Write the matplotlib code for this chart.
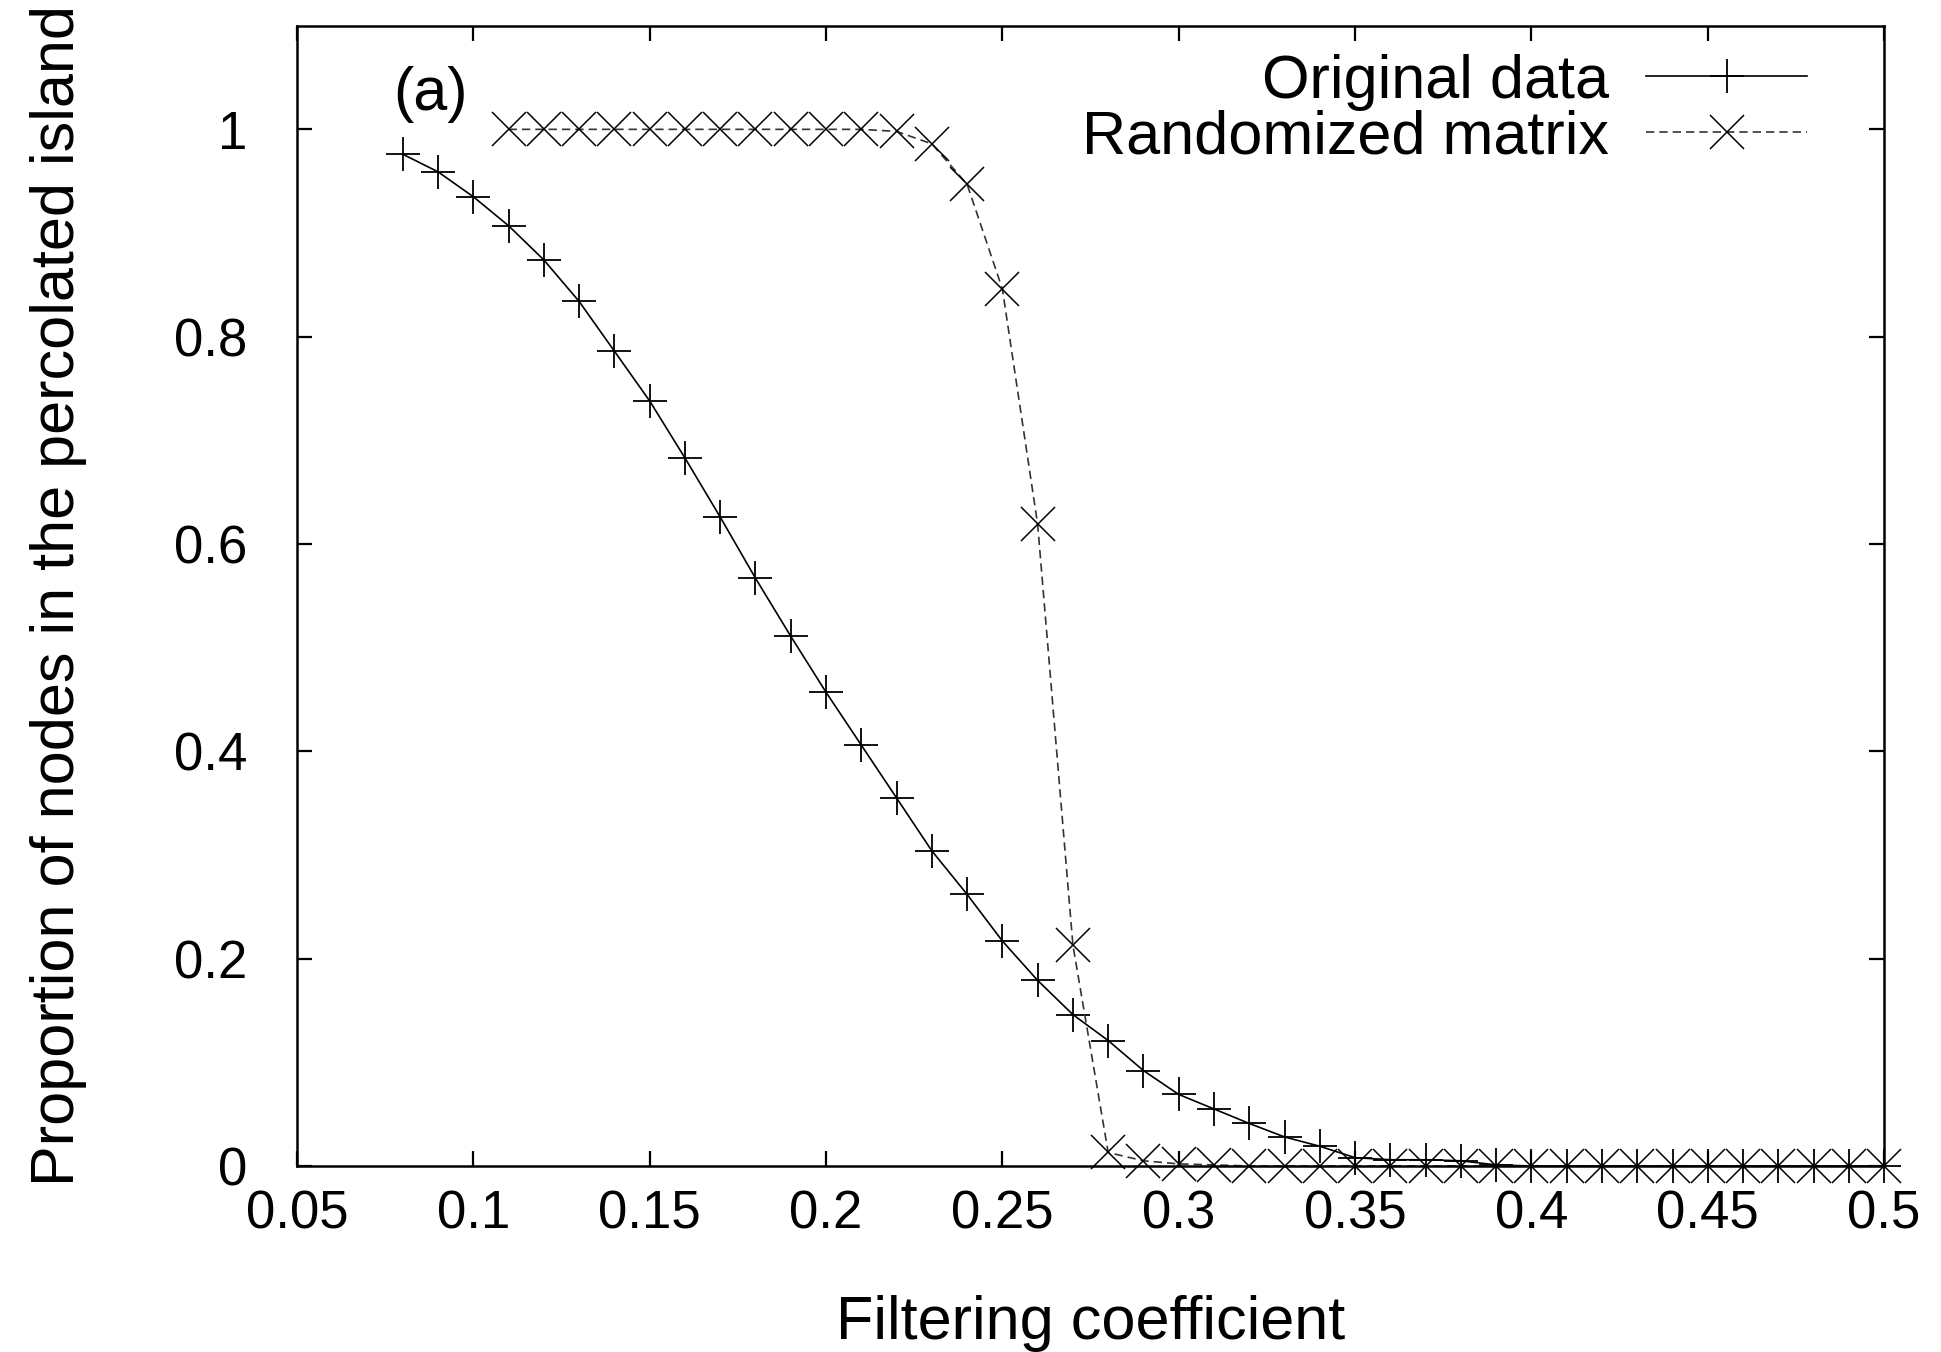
import matplotlib
matplotlib.use("Agg")
import matplotlib.pyplot as plt

plt.rcParams["font.family"] = ["Liberation Sans", "DejaVu Sans"]

# filtering coefficient grids
orig_x = [0.08, 0.09, 0.10, 0.11, 0.12, 0.13, 0.14, 0.15, 0.16, 0.17,
          0.18, 0.19, 0.20, 0.21, 0.22, 0.23, 0.24, 0.25, 0.26, 0.27,
          0.28, 0.29, 0.30, 0.31, 0.32, 0.33, 0.34, 0.35, 0.36, 0.37,
          0.38, 0.39, 0.40, 0.41, 0.42, 0.43, 0.44, 0.45, 0.46, 0.47,
          0.48, 0.49, 0.50]
orig_y = [0.976, 0.959, 0.935, 0.907, 0.874, 0.834, 0.786, 0.738, 0.683, 0.626,
          0.567, 0.511, 0.457, 0.406, 0.355, 0.304, 0.262, 0.217, 0.179, 0.146,
          0.121, 0.092, 0.069, 0.055, 0.041, 0.028, 0.019, 0.008, 0.006, 0.006,
          0.005, 0.001, 0.0, 0.0, 0.0, 0.0, 0.0, 0.0, 0.0, 0.0,
          0.0, 0.0, 0.0]

rand_x = [0.11, 0.12, 0.13, 0.14, 0.15, 0.16, 0.17, 0.18, 0.19, 0.20,
          0.21, 0.22, 0.23, 0.24, 0.25, 0.26, 0.27, 0.28, 0.29, 0.30,
          0.31, 0.32, 0.33, 0.34, 0.35, 0.36, 0.37, 0.38, 0.39, 0.40,
          0.41, 0.42, 0.43, 0.44, 0.45, 0.46, 0.47, 0.48, 0.49, 0.50]
rand_y = [1.0, 1.0, 1.0, 1.0, 1.0, 1.0, 1.0, 1.0, 1.0, 1.0,
          1.0, 0.998, 0.986, 0.947, 0.846, 0.619, 0.213, 0.013, 0.005, 0.002,
          0.001, 0.0, 0.0, 0.0, 0.0, 0.0, 0.0, 0.0, 0.0, 0.0,
          0.0, 0.0, 0.0, 0.0, 0.0, 0.0, 0.0, 0.0, 0.0, 0.0]

xticks = [0.05, 0.1, 0.15, 0.2, 0.25, 0.3, 0.35, 0.4, 0.45, 0.5]
xtick_labels = ["0.05", "0.1", "0.15", "0.2", "0.25", "0.3", "0.35", "0.4", "0.45", "0.5"]
yticks = [0, 0.2, 0.4, 0.6, 0.8, 1.0]
ytick_labels = ["0", "0.2", "0.4", "0.6", "0.8", "1"]

FS_TICK = 38
FS = 44

fig = plt.figure(figsize=(19.41, 13.52), dpi=100)
ax = fig.add_axes([0.153, 0.1376, 0.8177, 0.8434])

l1, = ax.plot(orig_x, orig_y, color="black", lw=1.2, marker="+", ms=25,
              mew=1.3, clip_on=False)
l2, = ax.plot(rand_x, rand_y, color="#333333", lw=1.2, ls=(0, (5, 3)),
              marker="x", ms=25, mew=1.1, mec="black", clip_on=False)

ax.set_xlim(0.05, 0.5)
ax.set_ylim(0, 1.1)
ax.set_xticks(xticks)
ax.set_xticklabels(xtick_labels)
ax.set_yticks(yticks)
ax.set_yticklabels(ytick_labels)
ax.tick_params(direction="in", length=11, width=1.6, top=True, right=True,
               labelsize=FS_TICK)
ax.tick_params(axis="x", pad=17)
ax.tick_params(axis="y", pad=36)
for s in ax.spines.values():
    s.set_linewidth(1.8)

ax.set_xlabel("Filtering coefficient", fontsize=FS, labelpad=40)
ax.set_ylabel("Proportion of nodes in the percolated island", fontsize=FS, labelpad=62)

ax.text(0.088, 1.034, "(a)", fontsize=FS, ha="center", va="center")

# two one-entry legends so the labels end up right-aligned like gnuplot
leg_kw = dict(loc="center right", frameon=False, markerfirst=False, fontsize=FS,
              handlelength=2.64, handletextpad=0.6, borderpad=0, borderaxespad=0)
leg1 = ax.legend([l1], ["Original data"], bbox_to_anchor=(0.9516, 0.9505), **leg_kw)
ax.add_artist(leg1)
ax.legend([l2], ["Randomized matrix"], bbox_to_anchor=(0.9516, 0.9016), **leg_kw)

fig.savefig("out.png", dpi=100)
